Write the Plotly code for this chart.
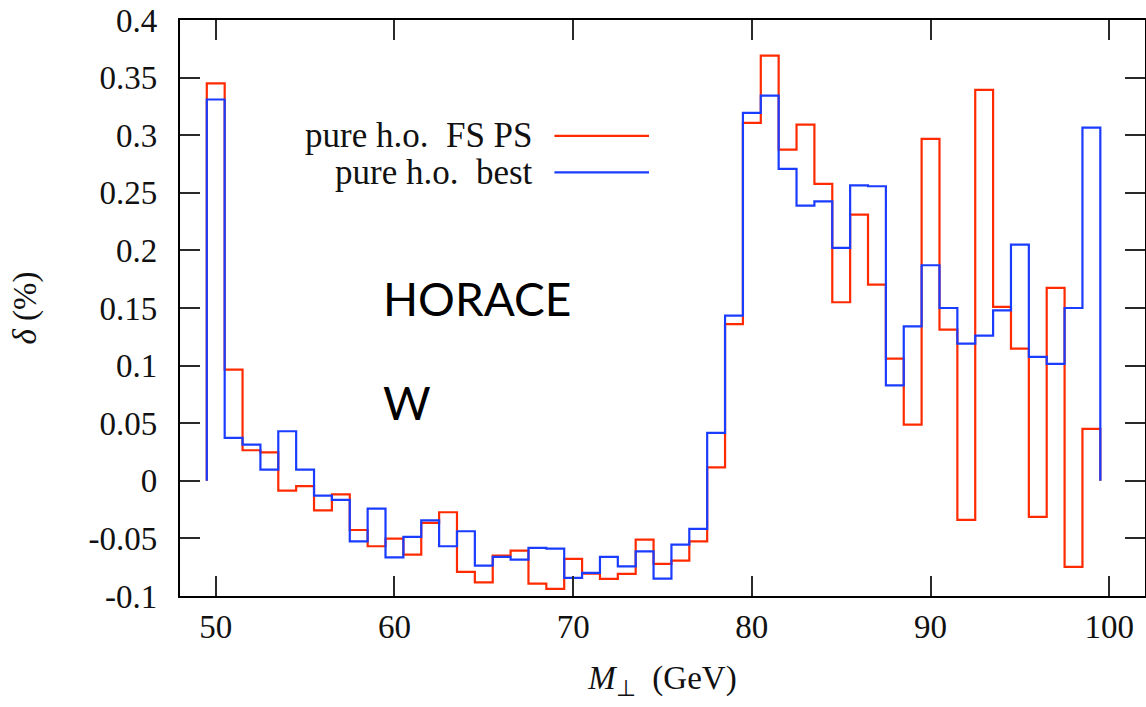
import plotly.graph_objects as go

bin_centers = list(range(50, 100))
fs_ps = [0.345, 0.0965, 0.0265, 0.0247, -0.0085, -0.0047, -0.0256, -0.0117, -0.0427, -0.0568,
         -0.0502, -0.064, -0.0366, -0.0273, -0.079, -0.0881, -0.065, -0.0606, -0.0892, -0.0938,
         -0.0678, -0.0806, -0.0852, -0.0808, -0.051, -0.0722, -0.0693, -0.0525, 0.0117, 0.136,
         0.3107, 0.369, 0.2875, 0.3092, 0.2577, 0.155, 0.2311, 0.1703, 0.1061, 0.0488,
         0.2968, 0.1313, -0.034, 0.3393, 0.151, 0.1148, -0.0313, 0.1674, -0.0748, 0.045]
best = [0.331, 0.0372, 0.0314, 0.0097, 0.043, 0.0097, -0.0128, -0.0166, -0.0525, -0.0241,
        -0.0664, -0.0487, -0.0343, -0.0568, -0.0438, -0.0736, -0.066, -0.0684, -0.0583, -0.0589,
        -0.0843, -0.08, -0.066, -0.0742, -0.0612, -0.0849, -0.0554, -0.0418, 0.0416, 0.1434,
        0.3193, 0.3344, 0.2707, 0.2389, 0.2426, 0.2022, 0.2565, 0.2557, 0.0829, 0.1341,
        0.1871, 0.150, 0.119, 0.126, 0.148, 0.205, 0.1075, 0.1015, 0.150, 0.3066]
series_names = ["pure h.o.\u00a0 FS PS", "pure h.o.\u00a0 best"]
y_tickvals = [-0.1, -0.05, 0, 0.05, 0.1, 0.15, 0.2, 0.25, 0.3, 0.35, 0.4]
y_ticktext = ["-0.1", "-0.05", "0", "0.05", "0.1", "0.15", "0.2", "0.25", "0.3", "0.35", "0.4"]
x_tickvals = [50, 60, 70, 80, 90, 100]

RED = "#ff2a00"
BLUE = "#1a3cff"


def step_xy(centers, vals):
    xs = [centers[0] - 0.5]
    ys = [0]
    for c, v in zip(centers, vals):
        xs.append(c - 0.5)
        ys.append(v)
    xs.append(centers[-1] + 0.5)
    ys.append(vals[-1])
    xs.append(centers[-1] + 0.5)
    ys.append(0)
    return xs, ys


fig = go.Figure()
for vals, col, name in [(fs_ps, RED, series_names[0]), (best, BLUE, series_names[1])]:
    xs, ys = step_xy(bin_centers, vals)
    fig.add_trace(go.Scatter(x=xs, y=ys, mode="lines", line=dict(color=col, width=2.2, shape="hv"),
                             name=name, showlegend=False))

FONT = "Liberation Serif"
FS = 33
axis_common = dict(showline=True, linecolor="black", linewidth=2, mirror="ticks",
                   ticks="inside", ticklen=20, tickwidth=1.6, tickcolor="#2a2a2a",
                   showgrid=False, zeroline=False, automargin=False,
                   tickfont=dict(family=FONT, size=FS, color="#111"))

fig.update_xaxes(range=[48, 102], tickvals=x_tickvals,
                 title=dict(text="<i>M</i><sub>⊥</sub>  (GeV)", font=dict(family=FONT, size=FS, color="#111"),
                            standoff=22),
                 **axis_common)
fig.update_yaxes(range=[-0.1, 0.4], tickvals=y_tickvals, ticklabelstandoff=6,
                 ticktext=[t + "\u00a0" for t in y_ticktext],
                 title=dict(text="<i>δ</i> (%)", font=dict(family=FONT, size=FS, color="#111"),
                            standoff=42),
                 **axis_common)

# legend
leg_y = [0.799, 0.7356]
for i, (name, col) in enumerate(zip(series_names, [RED, BLUE])):
    fig.add_annotation(xref="paper", yref="paper", x=0.368, y=leg_y[i], text=name, showarrow=False,
                       xanchor="right", yanchor="middle",
                       font=dict(family=FONT, size=FS + 2, color="#111"))
    fig.add_shape(type="line", xref="paper", yref="paper", x0=0.388, x1=0.486, y0=leg_y[i], y1=leg_y[i],
                  line=dict(color=col, width=2.2))

fig.add_annotation(xref="x", yref="y", x=59.25, y=0.158, text="HORACE", showarrow=False,
                   xanchor="left", yanchor="middle", font=dict(family="Lato", size=46, color="black"))
fig.add_annotation(xref="x", yref="y", x=59.25, y=0.068, text="W", showarrow=False,
                   xanchor="left", yanchor="middle", font=dict(family="Lato", size=46, color="black"))

fig.update_layout(width=1146, height=707, margin=dict(l=180, r=1, t=20, b=111),
                  plot_bgcolor="white", paper_bgcolor="white", showlegend=False)

fig.write_html("out.html", config={"displayModeBar": False},
               post_script="document.body.style.margin='0';document.body.style.padding='0';")
